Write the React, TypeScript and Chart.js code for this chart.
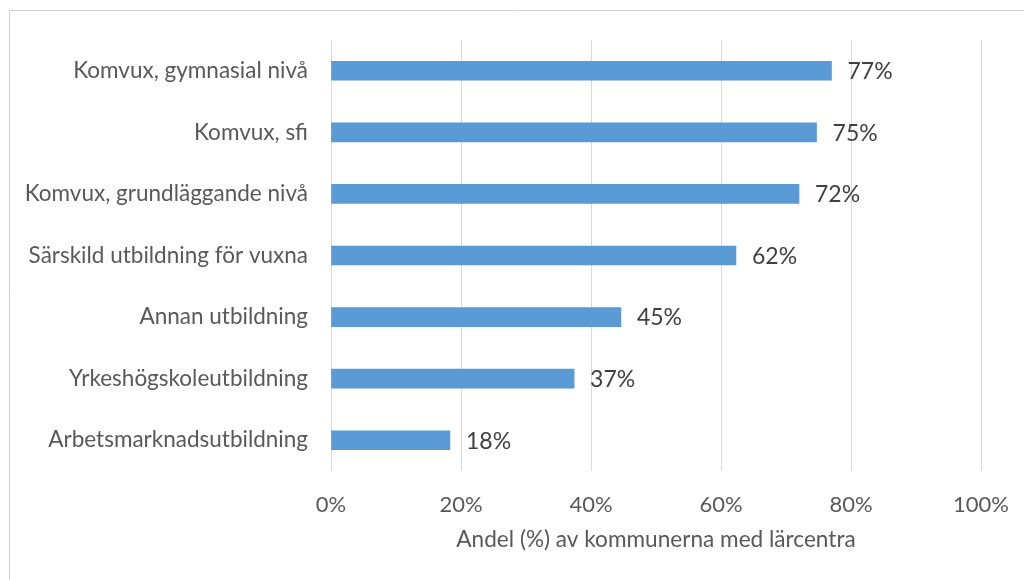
import React, { useEffect, useRef } from "react";
import { Chart, registerables } from "chart.js";

Chart.register(...registerables);

const categories = [
  "Komvux, gymnasial nivå",
  "Komvux, sfi",
  "Komvux, grundläggande nivå",
  "Särskild utbildning för vuxna",
  "Annan utbildning",
  "Yrkeshögskoleutbildning",
  "Arbetsmarknadsutbildning",
];
const values = [77.0, 74.7, 72.0, 62.3, 44.6, 37.4, 18.3];
const dataLabels = ["77%", "75%", "72%", "62%", "45%", "37%", "18%"];
const xTickValues = [0, 20, 40, 60, 80, 100];
const axisTitle = "Andel (%) av kommunerna med lärcentra";

const FONT = "Lato, 'Open Sans', sans-serif";

const frame = {
  id: "frame",
  beforeDraw(chart: any) {
    const ctx = chart.ctx;
    ctx.save();
    ctx.fillStyle = "#ffffff";
    ctx.fillRect(0, 0, chart.width, chart.height);
    ctx.strokeStyle = "#D0D0D0";
    ctx.lineWidth = 1;
    ctx.beginPath();
    ctx.moveTo(9.5, chart.height + 5);
    ctx.lineTo(9.5, 10.5);
    ctx.lineTo(chart.width + 5, 10.5);
    ctx.stroke();
    ctx.restore();
  },
};

const valueLabels = {
  id: "valueLabels",
  afterDatasetsDraw(chart: any) {
    const ctx = chart.ctx;
    const meta = chart.getDatasetMeta(0);
    ctx.save();
    ctx.fillStyle = "#404040";
    ctx.font = `23px ${FONT}`;
    ctx.textAlign = "left";
    ctx.textBaseline = "middle";
    meta.data.forEach((el: any, i: number) => {
      ctx.fillText(dataLabels[i], el.x + 16, el.y + 1);
    });
    ctx.restore();
  },
};

export default function App() {
  const ref = useRef<HTMLCanvasElement | null>(null);
  useEffect(() => {
    if (!ref.current) return;
    const chart = new Chart(ref.current, {
      type: "bar",
      data: {
        labels: categories,
        datasets: [
          {
            data: values,
            backgroundColor: "#5B9BD5",
            borderWidth: 0,
            barThickness: 19,
          },
        ],
      },
      plugins: [frame, valueLabels],
      options: {
        indexAxis: "y",
        animation: false,
        responsive: false,
        layout: { padding: { top: 40, right: 43, bottom: 0, left: 0 } },
        plugins: {
          legend: { display: false },
          tooltip: { enabled: false },
        },
        scales: {
          x: {
            min: 0,
            max: 100,
            afterBuildTicks: (scale: any) => {
              scale.ticks = xTickValues.map((v) => ({ value: v }));
            },
            afterFit: (scale: any) => {
              scale.height = 109;
              scale.paddingRight = 0;
              scale.paddingLeft = 0;
            },
            grid: { color: "#D9D9D9", lineWidth: 1, drawTicks: false },
            border: { display: false },
            ticks: {
              padding: 21,
              color: "#595959",
              font: { family: FONT, size: 22 },
              callback: (v: any) => `${v}%`,
            },
            title: {
              display: true,
              text: axisTitle,
              color: "#595959",
              font: { family: FONT, size: 22.6 },
              padding: { top: 0, bottom: 26.5 },
            },
          },
          y: {
            afterFit: (scale: any) => {
              scale.width = 331;
            },
            grid: { display: false, drawTicks: false },
            border: { display: false },
            ticks: {
              padding: 23,
              color: "#595959",
              font: { family: FONT, size: 22.5 },
            },
          },
        },
      },
    });
    return () => chart.destroy();
  }, []);
  return (
    <div style={{ position: "fixed", left: 0, top: 0, width: 1024, height: 580, background: "#fff" }}>
      <canvas ref={ref} width={1024} height={580} style={{ display: "block", width: 1024, height: 580 }} />
    </div>
  );
}
